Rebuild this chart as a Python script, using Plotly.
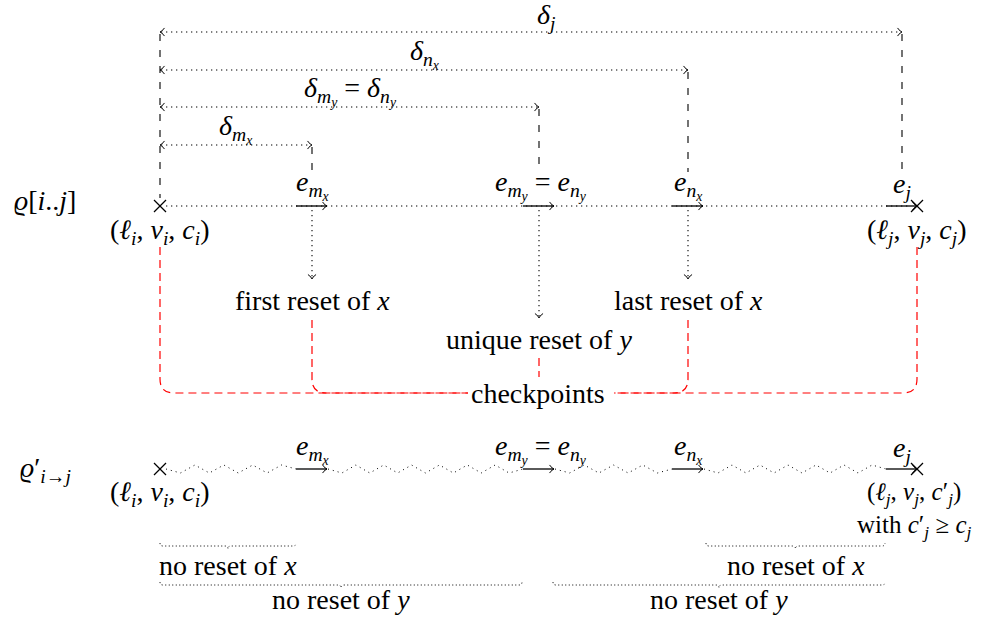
import plotly.graph_objects as go

W, H = 988, 618
FONT = "'Liberation Serif', 'Times New Roman', Tinos, 'DejaVu Serif', serif"
FS = 28

# ---------------- diagram content ----------------
row_labels = ["<i>ϱ</i>[<i>i</i>..<i>j</i>]", "<i>ϱ</i>′<sub><i>i</i>→<i>j</i></sub>"]
row_y = [206, 469]
row_label_x = 45
start_x = 160
end_x = 917
event_names = [
    "<i>e</i><sub><i>m</i><sub><i>x</i></sub></sub>",
    "<i>e</i><sub><i>m</i><sub><i>y</i></sub></sub> = <i>e</i><sub><i>n</i><sub><i>y</i></sub></sub>",
    "<i>e</i><sub><i>n</i><sub><i>x</i></sub></sub>",
    "<i>e</i><sub><i>j</i></sub>",
]
event_x = [312, 539, 688, 902]
delta_names = [
    "<i>δ</i><sub><i>m</i><sub><i>x</i></sub></sub>",
    "<i>δ</i><sub><i>m</i><sub><i>y</i></sub></sub> = <i>δ</i><sub><i>n</i><sub><i>y</i></sub></sub>",
    "<i>δ</i><sub><i>n</i><sub><i>x</i></sub></sub>",
    "<i>δ</i><sub><i>j</i></sub>",
]
delta_y = [145, 107, 70, 32]
delta_label_x = [235, 350, 424, 546]
reset_names = ["first reset of <i>x</i>", "unique reset of <i>y</i>", "last reset of <i>x</i>"]
reset_y = [300, 339, 300]
start_state = "(<i>ℓ</i><sub><i>i</i></sub>, <i>v</i><sub><i>i</i></sub>, <i>c</i><sub><i>i</i></sub>)"
end_state = "(<i>ℓ</i><sub><i>j</i></sub>, <i>v</i><sub><i>j</i></sub>, <i>c</i><sub><i>j</i></sub>)"
end_state2 = ("(<i>ℓ</i><sub><i>j</i></sub>, <i>v</i><sub><i>j</i></sub>, <i>c</i>′<sub><i>j</i></sub>)"
              "<br>with <i>c</i>′<sub><i>j</i></sub> ≥ <i>c</i><sub><i>j</i></sub>")
checkpoint_label = "checkpoints"
checkpoint_xy = (538, 393)
brace_x0 = [160, 160, 706, 553]
brace_x1 = [296, 522, 885, 885]
brace_y = [546, 585, 546, 585]
brace_text = ["no reset of <i>x</i>", "no reset of <i>y</i>", "no reset of <i>x</i>", "no reset of <i>y</i>"]

# ---------------- drawing helpers ----------------
fig = go.Figure()
shapes = []
annos = []

DOT = "1.3px,3.7px"
DASH = "7px,9px"
RDASH = "8px,5px"


def line(x0, y0, x1, y1, color="black", width=1.1, dash="solid"):
    shapes.append(dict(type="line", xref="x", yref="y", x0=x0, y0=y0, x1=x1, y1=y1,
                       line=dict(color=color, width=width, dash=dash)))


def path(d, color="black", width=1.1, dash="solid"):
    shapes.append(dict(type="path", xref="x", yref="y", path=d,
                       line=dict(color=color, width=width, dash=dash)))


def head(x, y, dx, dy, size=4.5, width=1.0):
    px, py = -dy, dx
    a = (x - dx * size + px * size * 0.9, y - dy * size + py * size * 0.9)
    b = (x - dx * size - px * size * 0.9, y - dy * size - py * size * 0.9)
    path(f"M{a[0]},{a[1]} Q{x - dx*size*0.3},{y - dy*size*0.3} {x},{y} Q{x - dx*size*0.3},{y - dy*size*0.3} {b[0]},{b[1]}",
         width=width)


def cross(x, y, s=6):
    line(x - s, y - s, x + s, y + s, width=1.2)
    line(x - s, y + s, x + s, y - s, width=1.2)


def text(x, y, t, size=FS, xanchor="center", yanchor="middle"):
    annos.append(dict(x=x, y=y, xref="x", yref="y", text=t, showarrow=False,
                      xanchor=xanchor, yanchor=yanchor, borderpad=0, align="center",
                      font=dict(family=FONT, size=size, color="black")))


def zigzag(x0, x1, y, amp=4.0, period=28.0):
    n = max(2, int(round((x1 - x0) / (period / 2))))
    step = (x1 - x0) / n
    pts = [f"M{x0},{y}"]
    for k in range(1, n + 1):
        yy = y if k == n else y + (amp if k % 2 else -amp)
        pts.append(f"L{x0 + k * step},{yy}")
    path(" ".join(pts), width=1.0, dash="1px,4px")


def brace(x0, x1, y, a=3.0):
    m = (x0 + x1) / 2
    d = (f"M{x0},{y - a} Q{x0},{y} {x0 + a},{y} L{m - a},{y} Q{m},{y} {m},{y + a} "
         f"Q{m},{y} {m + a},{y} L{x1 - a},{y} Q{x1},{y} {x1},{y - a}")
    path(d, width=1.0, dash="1px,2.5px")


# ---------------- top row: rho[i..j] ----------------
ty = row_y[0]
text(row_label_x, ty - 6, row_labels[0])
cross(start_x, ty)
cross(end_x, ty)
line(start_x + 6, ty, end_x - 6, ty, dash=DOT)
for k, ex in enumerate(event_x):
    x1 = ex + 15
    line(ex - 16, ty, x1, ty, width=1.3)
    head(x1, ty, 1, 0)
    text(ex + (2 if k == 1 else 0), ty - 21, event_names[k])

for k, ex in enumerate(event_x):
    dy = delta_y[k]
    line(start_x + 1, dy, ex - 1, dy, dash=DOT)
    head(start_x, dy, -1, 0)
    head(ex, dy, 1, 0)
    line(ex, dy + 2, ex, ty - 34, dash=DASH)
    text(delta_label_x[k], dy - 16, delta_names[k])
line(start_x, min(delta_y) + 2, start_x, ty - 8, dash=DASH)

for k in range(3):
    ex = event_x[k]
    tip = reset_y[k] - 21
    line(ex, ty + 4, ex, tip, dash=DOT)
    head(ex, tip, 0, 1)
    text(ex, reset_y[k], reset_names[k])

text(start_x, ty + 25, start_state)
text(end_x, ty + 25, end_state)

cx, cy = checkpoint_xy
text(cx, cy, checkpoint_label)
r = 14
L, R = cx - 70, cx + 76
for sx, sy in [(start_x, ty + 41), (event_x[0], reset_y[0] + 20)]:
    path(f"M{sx},{sy} L{sx},{cy - r} Q{sx},{cy} {sx + r},{cy} L{L},{cy}", color="red", width=1.2, dash=RDASH)
for sx, sy in [(end_x, ty + 41), (event_x[2], reset_y[2] + 20)]:
    path(f"M{sx},{sy} L{sx},{cy - r} Q{sx},{cy} {sx - r},{cy} L{R},{cy}", color="red", width=1.2, dash=RDASH)
line(event_x[1], reset_y[1] + 19, event_x[1], cy - 16, color="red", width=1.2, dash=RDASH)

# ---------------- bottom row ----------------
by = row_y[1]
text(row_label_x, by, row_labels[1])
cross(start_x, by)
cross(end_x, by)
prev = start_x + 6
for k, ex in enumerate(event_x):
    zigzag(prev, ex - 16, by)
    x1 = ex + 15
    line(ex - 16, by, x1, by, width=1.3)
    head(x1, by, 1, 0)
    text(ex + (2 if k == 1 else 0), by - 20, event_names[k])
    prev = x1 + 1

text(start_x, by + 24, start_state)
text(end_x - 3, by + 8, end_state2, size=25, yanchor="top")

for k in range(4):
    brace(brace_x0[k], brace_x1[k], brace_y[k])
    text((brace_x0[k] + brace_x1[k]) / 2, brace_y[k] + (19 if brace_y[k] < 570 else 14), brace_text[k])

fig.update_layout(
    width=W, height=H, margin=dict(l=0, r=0, t=0, b=0),
    paper_bgcolor="white", plot_bgcolor="white", showlegend=False,
    xaxis=dict(range=[0, W], visible=False, fixedrange=True),
    yaxis=dict(range=[H, 0], visible=False, fixedrange=True),
    shapes=shapes, annotations=annos,
)

fig.write_html("out.html", config={"displayModeBar": False},
               post_script="document.body.style.margin='0';document.body.style.overflow='hidden';")
